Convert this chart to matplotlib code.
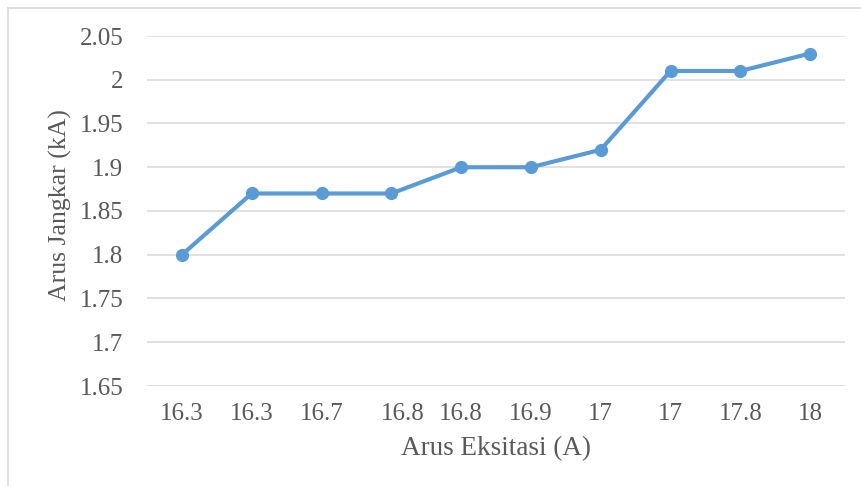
import numpy as np
import matplotlib.pyplot as plt
import matplotlib.transforms as mtransforms
from matplotlib.lines import Line2D

plt.rcParams['font.family'] = ['Liberation Serif', 'DejaVu Serif']

# excitation current (category labels) and armature current
arus_eksitasi = ['16.3', '16.3', '16.7', '16.8', '16.8', '16.9', '17', '17', '17.8', '18']
arus_jangkar = [1.80, 1.87, 1.87, 1.87, 1.90, 1.90, 1.92, 2.01, 2.01, 2.03]
y_ticks = [1.65, 1.7, 1.75, 1.8, 1.85, 1.9, 1.95, 2.0, 2.05]
y_tick_labels = ['1.65', '1.7', '1.75', '1.8', '1.85', '1.9', '1.95', '2', '2.05']

W, H = 861, 486
fig = plt.figure(figsize=(W / 100, H / 100), dpi=100)
ax = fig.add_axes([147 / W, 1 - 386 / H, (845 - 147) / W, (386 - 36) / H])

x = np.arange(len(arus_jangkar))
ax.plot(x, arus_jangkar, color='#5B9BD5', linewidth=3, marker='o',
        markersize=8.5, solid_capstyle='round', zorder=3)

ax.set_xlim(-0.5, len(x) - 0.5)
ax.set_ylim(1.65, 2.05)
ax.set_yticks(y_ticks)
ax.set_yticklabels(y_tick_labels)
ax.set_xticks(x)
ax.set_xticklabels(arus_eksitasi)

ax.grid(axis='y', color='#D9D9D9', linewidth=1.1)
ax.set_axisbelow(True)
for s in ax.spines.values():
    s.set_visible(False)
ax.tick_params(axis='both', length=0, labelsize=18, colors='#595959')
ax.tick_params(axis='y', pad=17)
ax.tick_params(axis='x', pad=12.5)

# the fourth category label sits a little to the right
lbl = ax.get_xticklabels()[3]
lbl.set_transform(lbl.get_transform() + mtransforms.ScaledTranslation(8 / 72, 0, fig.dpi_scale_trans))

ax.set_xlabel('Arus Eksitasi (A)', fontsize=19.5, color='#595959')
ax.set_ylabel('Arus Jangkar (kA)', fontsize=18.5, color='#595959')
ax.xaxis.set_label_coords(0.5, -0.143)
ax.yaxis.set_label_coords(-0.108, 0.517)

# chart area border (left and top edges)
fig.add_artist(Line2D([8 / W, 8 / W], [0, 1 - 8 / H], color='#D9D9D9', linewidth=1.2))
fig.add_artist(Line2D([8 / W, 1], [1 - 8 / H, 1 - 8 / H], color='#D9D9D9', linewidth=1.2))

fig.savefig('out.png', dpi=100)
